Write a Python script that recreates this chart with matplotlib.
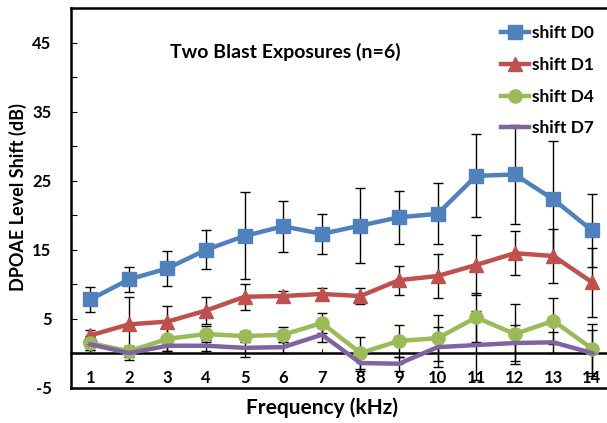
import matplotlib.pyplot as plt

plt.rcParams['font.family'] = ['Lato', 'DejaVu Sans']
plt.rcParams['font.weight'] = 'bold'

freq = list(range(1, 15))

shift_d0 = [7.8, 10.7, 12.3, 15.0, 17.0, 18.4, 17.3, 18.5, 19.7, 20.2, 25.7, 25.9, 22.3, 17.8]
err_d0 = [1.8, 1.8, 2.5, 2.8, 6.3, 3.7, 2.9, 5.4, 3.8, 4.4, 6.0, 7.2, 8.4, 5.3]

shift_d1 = [2.6, 4.2, 4.6, 6.2, 8.2, 8.3, 8.6, 8.3, 10.6, 11.2, 12.8, 14.5, 14.1, 10.3]
err_d1 = [0.8, 3.9, 2.2, 2.0, 1.9, 0.8, 0.9, 1.2, 2.1, 3.2, 4.4, 3.2, 3.9, 5.0]

shift_d4 = [1.5, 0.3, 2.1, 2.8, 2.5, 2.7, 4.4, 0.05, 1.8, 2.2, 5.2, 2.8, 4.7, 0.7]
err_d4 = [1.0, 0.8, 1.8, 1.1, 0.8, 1.1, 1.5, 2.3, 2.3, 3.3, 3.5, 4.4, 3.3, 3.5]

shift_d7 = [1.3, 0.05, 1.1, 1.1, 0.8, 0.9, 2.7, -1.4, -1.5, 0.9, 1.2, 1.5, 1.6, 0.05]
err_d7 = [0.8, 1.0, 0.8, 0.8, 1.3, 0.8, 1.0, 1.2, 1.0, 2.9, 5.0, 2.6, 1.5, 3.3]

yticks = [-5, 5, 15, 25, 35, 45]

fig = plt.figure(figsize=(6.07, 4.23), dpi=100)
ax = fig.add_axes([0.117, 0.083, 0.89, 0.898])

series = [
    (shift_d0, err_d0, "shift D0", "#4F81BD", "s", 9.5),
    (shift_d1, err_d1, "shift D1", "#C0504D", "^", 9.5),
    (shift_d4, err_d4, "shift D4", "#9BBB59", "o", 9.5),
    (shift_d7, err_d7, "shift D7", "#8064A2", "_", 6),
]

for vals, errs, name, col, mk, ms in series:
    ax.errorbar(freq, vals, yerr=errs, fmt="none", ecolor="black",
                elinewidth=1, capsize=3.5, capthick=1, zorder=2)
    ax.plot(freq, vals, color=col, marker=mk, markersize=ms, linewidth=3.2,
            label=name, zorder=3)

ax.set_xlim(0.5, 14.5)
ax.set_ylim(-5, 50)

ax.spines['bottom'].set_position(('data', 0))
ax.spines['bottom'].set_linewidth(1.8)
ax.spines['left'].set_linewidth(1.8)
ax.spines['top'].set_linewidth(1.8)
ax.spines['right'].set_visible(False)
ax.axhline(-5, color="black", linewidth=1.8, clip_on=False)

ax.set_xticks(freq)
ax.tick_params(axis='x', direction='in', length=3, pad=12, labelsize=12)
ax.set_yticks(range(-5, 50, 5))
ax.set_yticklabels([str(v) if v in yticks else "" for v in range(-5, 50, 5)])
ax.tick_params(axis='y', direction='in', length=4, pad=14, labelsize=12)

ax.text(285 / 607, 1 - 52 / 423, "Two Blast Exposures (n=6)", transform=fig.transFigure,
        ha="center", va="center", fontsize=14, fontweight="bold")
fig.text(322 / 607, 1 - 408 / 423, "Frequency (kHz)", ha="center", va="center",
         fontsize=15, fontweight="bold")
fig.text(18 / 607, 1 - 197 / 423, "DPOAE Level Shift (dB)", ha="center", va="center",
         rotation=90, fontsize=13, fontweight="bold")

ax.legend(loc="upper left", bbox_to_anchor=(0.825, 0.94), bbox_transform=fig.transFigure,
          frameon=False, fontsize=12.5, handlelength=1.6, handletextpad=0.2,
          labelspacing=0.9, borderpad=0, borderaxespad=0)

fig.savefig("out.png", dpi=100)
